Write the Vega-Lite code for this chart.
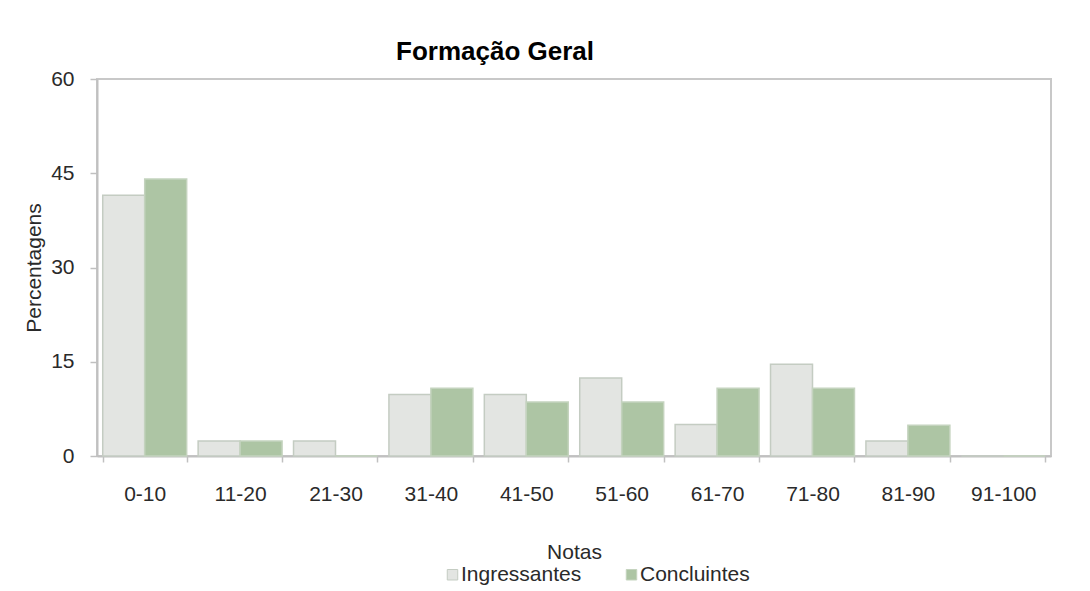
{
  "$schema": "https://vega.github.io/schema/vega-lite/v6.json",
  "width": 954,
  "height": 377,
  "autosize": {"type": "none"},
  "padding": {"left": 97, "top": 79, "right": 39, "bottom": 135},
  "background": "white",
  "title": {
    "text": "Formação Geral",
    "font": "Liberation Sans",
    "fontSize": 26,
    "fontWeight": "bold",
    "color": "#000000",
    "anchor": "middle",
    "dx": -79,
    "offset": 3
  },
  "config": {
    "view": {"stroke": "#C8C8C8", "strokeWidth": 2},
    "axis": {
      "labelFont": "Liberation Sans",
      "titleFont": "Liberation Sans",
      "labelFontSize": 21,
      "titleFontSize": 21,
      "titleFontWeight": "normal",
      "labelColor": "#2a2a2a",
      "titleColor": "#2a2a2a",
      "domainColor": "#C0C0C0",
      "domainWidth": 2,
      "tickColor": "#C0C0C0",
      "tickWidth": 1.5,
      "grid": false
    }
  },
  "data": {
    "values": [
      {"nota": "0-10", "grupo": "Ingressantes", "valor": 41.5},
      {"nota": "0-10", "grupo": "Concluintes", "valor": 44.1},
      {"nota": "11-20", "grupo": "Ingressantes", "valor": 2.4},
      {"nota": "11-20", "grupo": "Concluintes", "valor": 2.4},
      {"nota": "21-30", "grupo": "Ingressantes", "valor": 2.4},
      {"nota": "21-30", "grupo": "Concluintes", "valor": 0},
      {"nota": "31-40", "grupo": "Ingressantes", "valor": 9.8},
      {"nota": "31-40", "grupo": "Concluintes", "valor": 10.8},
      {"nota": "41-50", "grupo": "Ingressantes", "valor": 9.8},
      {"nota": "41-50", "grupo": "Concluintes", "valor": 8.6},
      {"nota": "51-60", "grupo": "Ingressantes", "valor": 12.4},
      {"nota": "51-60", "grupo": "Concluintes", "valor": 8.6},
      {"nota": "61-70", "grupo": "Ingressantes", "valor": 5.0},
      {"nota": "61-70", "grupo": "Concluintes", "valor": 10.8},
      {"nota": "71-80", "grupo": "Ingressantes", "valor": 14.6},
      {"nota": "71-80", "grupo": "Concluintes", "valor": 10.8},
      {"nota": "81-90", "grupo": "Ingressantes", "valor": 2.4},
      {"nota": "81-90", "grupo": "Concluintes", "valor": 4.9},
      {"nota": "91-100", "grupo": "Ingressantes", "valor": 0},
      {"nota": "91-100", "grupo": "Concluintes", "valor": 0}
    ]
  },
  "mark": {"type": "bar", "strokeWidth": 1.5},
  "encoding": {
    "x": {
      "field": "nota",
      "type": "nominal",
      "sort": null,
      "scale": {"paddingInner": 0.12, "paddingOuter": 0.06},
      "axis": {
        "title": "Notas",
        "labelAngle": 0,
        "tickBand": "extent",
        "tickSize": 6,
        "labelPadding": 21,
        "titlePadding": 37
      }
    },
    "xOffset": {
      "field": "grupo",
      "type": "nominal",
      "sort": ["Ingressantes", "Concluintes"],
      "scale": {"paddingInner": 0, "paddingOuter": 0}
    },
    "y": {
      "field": "valor",
      "type": "quantitative",
      "scale": {"domain": [0, 60], "nice": false},
      "axis": {
        "title": "Percentagens",
        "values": [0, 15, 30, 45, 60],
        "tickSize": 7,
        "labelPadding": 16,
        "titlePadding": 6
      }
    },
    "color": {
      "field": "grupo",
      "type": "nominal",
      "sort": ["Ingressantes", "Concluintes"],
      "scale": {"domain": ["Ingressantes", "Concluintes"], "range": ["#E3E5E2", "#ADC5A4"]},
      "legend": {
        "title": null,
        "orient": "none",
        "direction": "horizontal",
        "legendX": 345,
        "legendY": 485,
        "symbolType": "square",
        "symbolSize": 110,
        "symbolStrokeColor": "#C4CCC2",
        "symbolStrokeWidth": 1,
        "labelFont": "Liberation Sans",
        "labelFontSize": 21,
        "labelColor": "#2a2a2a",
        "columnPadding": 39,
        "labelOffset": -2
      }
    },
    "stroke": {
      "field": "grupo",
      "type": "nominal",
      "scale": {"domain": ["Ingressantes", "Concluintes"], "range": ["#C4CCC2", "#C4D3BE"]},
      "legend": null
    }
  }
}
